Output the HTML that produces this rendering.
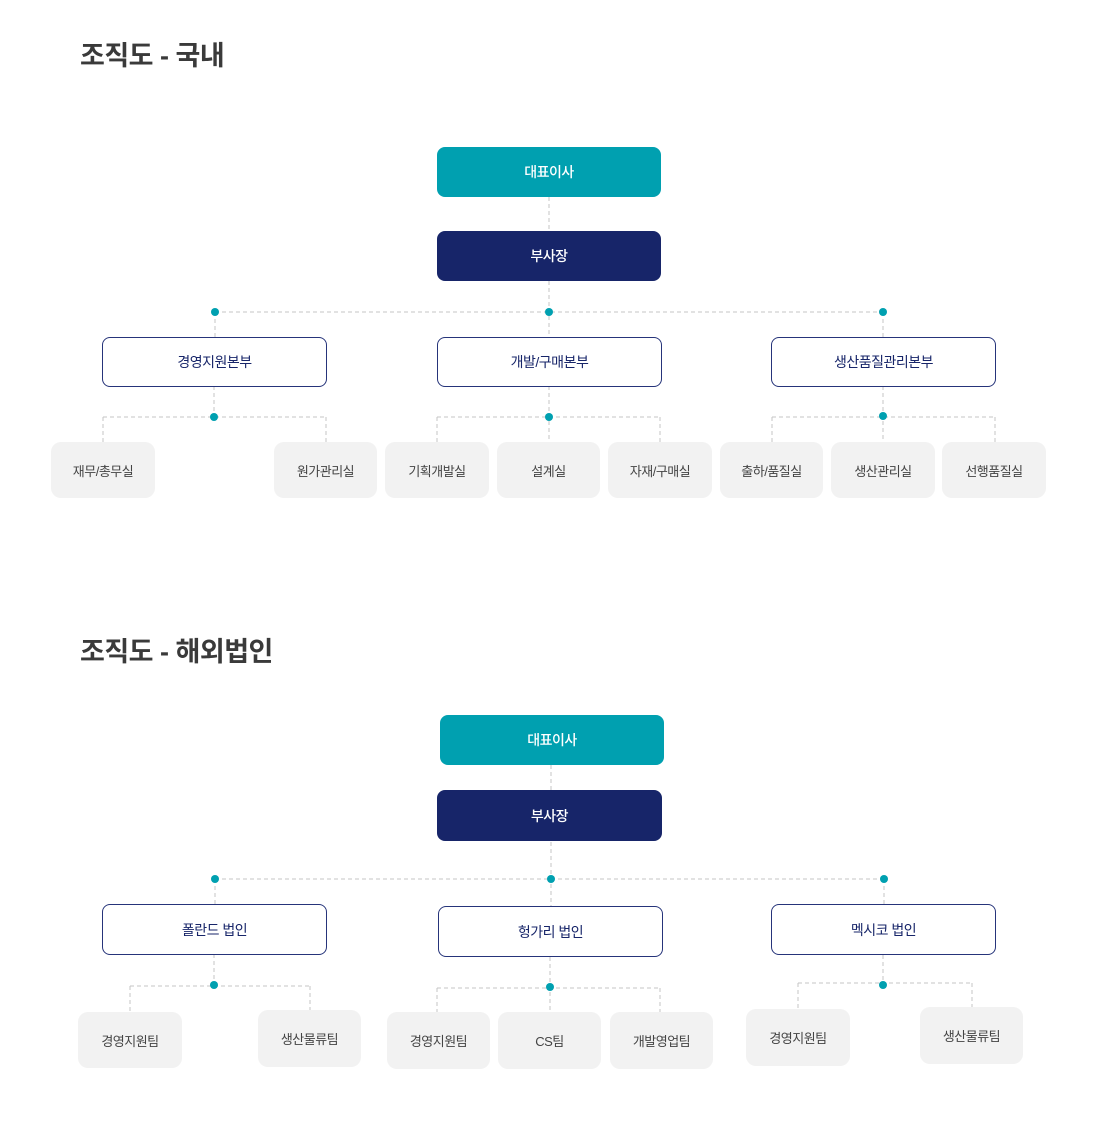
<!DOCTYPE html>
<html><head><meta charset="utf-8"><style>
body{margin:0;width:1096px;height:1134px;background:#fff;position:relative;overflow:hidden;font-family:"Liberation Sans","Noto Sans CJK KR",sans-serif}
.t{position:absolute;left:80px;font-size:27px;font-weight:bold;color:#3a3a3a;letter-spacing:-0.5px;line-height:30px}
.b{position:absolute;display:flex;align-items:center;justify-content:center;box-sizing:border-box;font-size:14px;letter-spacing:-0.5px}
.ceo{background:#00a0b0;color:#fff;border-radius:8px;font-weight:500}
.vp{background:#172569;color:#fff;border-radius:8px;font-weight:500}
.hq{background:#fff;border:1px solid #26347a;color:#172569;border-radius:8px}
.c{background:#f2f2f2;color:#444;border-radius:10px;font-size:13px}
svg{position:absolute;left:0;top:0}
</style></head><body>
<svg width="1096" height="1134">
<g stroke="#c4c4c4" stroke-width="1" stroke-dasharray="4 3" fill="none">
<line x1="549" y1="197" x2="549" y2="337"/>
<line x1="215" y1="312" x2="883" y2="312"/>
<line x1="215" y1="312" x2="215" y2="337"/><line x1="883" y1="312" x2="883" y2="337"/>
<line x1="214" y1="386" x2="214" y2="417"/><line x1="549" y1="386" x2="549" y2="442"/><line x1="883" y1="386" x2="883" y2="442"/>
<line x1="103" y1="417" x2="326" y2="417"/><line x1="103" y1="417" x2="103" y2="442"/><line x1="326" y1="417" x2="326" y2="442"/>
<line x1="437" y1="417" x2="660" y2="417"/><line x1="437" y1="417" x2="437" y2="442"/><line x1="660" y1="417" x2="660" y2="442"/>
<line x1="772" y1="417" x2="995" y2="417"/><line x1="772" y1="417" x2="772" y2="442"/><line x1="995" y1="417" x2="995" y2="442"/>

<line x1="551" y1="765" x2="551" y2="906"/>
<line x1="215" y1="879" x2="884" y2="879"/>
<line x1="215" y1="879" x2="215" y2="904"/><line x1="884" y1="879" x2="884" y2="904"/>
<line x1="214" y1="954" x2="214" y2="986"/><line x1="550" y1="957" x2="550" y2="1012"/><line x1="883" y1="955" x2="883" y2="985"/>
<line x1="130" y1="986" x2="310" y2="986"/><line x1="130" y1="986" x2="130" y2="1012"/><line x1="310" y1="986" x2="310" y2="1010"/>
<line x1="437" y1="988" x2="660" y2="988"/><line x1="437" y1="988" x2="437" y2="1012"/><line x1="660" y1="988" x2="660" y2="1012"/>
<line x1="798" y1="983" x2="972" y2="983"/><line x1="798" y1="983" x2="798" y2="1009"/><line x1="972" y1="983" x2="972" y2="1007"/>
</g>
<g fill="#00a0b0">
<circle cx="215" cy="312" r="4"/><circle cx="549" cy="312" r="4"/><circle cx="883" cy="312" r="4"/>
<circle cx="214" cy="417" r="4"/><circle cx="549" cy="417" r="4"/><circle cx="883" cy="416" r="4"/>
<circle cx="215" cy="879" r="4"/><circle cx="551" cy="879" r="4"/><circle cx="884" cy="879" r="4"/>
<circle cx="214" cy="985" r="4"/><circle cx="550" cy="987" r="4"/><circle cx="883" cy="985" r="4"/>
</g>
</svg>
<div class="t" style="top:41px">조직도 - 국내</div>
<div class="b ceo" style="left:437px;top:147px;width:224px;height:50px">대표이사</div>
<div class="b vp" style="left:437px;top:231px;width:224px;height:50px">부사장</div>
<div class="b hq" style="left:102px;top:337px;width:225px;height:50px">경영지원본부</div>
<div class="b hq" style="left:437px;top:337px;width:225px;height:50px">개발/구매본부</div>
<div class="b hq" style="left:771px;top:337px;width:225px;height:50px">생산품질관리본부</div>
<div class="b c" style="left:51px;top:442px;width:104px;height:56px">재무/총무실</div>
<div class="b c" style="left:274px;top:442px;width:103px;height:56px">원가관리실</div>
<div class="b c" style="left:385px;top:442px;width:104px;height:56px">기획개발실</div>
<div class="b c" style="left:497px;top:442px;width:103px;height:56px">설계실</div>
<div class="b c" style="left:608px;top:442px;width:104px;height:56px">자재/구매실</div>
<div class="b c" style="left:720px;top:442px;width:103px;height:56px">출하/품질실</div>
<div class="b c" style="left:831px;top:442px;width:104px;height:56px">생산관리실</div>
<div class="b c" style="left:942px;top:442px;width:104px;height:56px">선행품질실</div>

<div class="t" style="top:637px">조직도 - 해외법인</div>
<div class="b ceo" style="left:440px;top:715px;width:224px;height:50px">대표이사</div>
<div class="b vp" style="left:437px;top:790px;width:225px;height:51px">부사장</div>
<div class="b hq" style="left:102px;top:904px;width:225px;height:51px">폴란드 법인</div>
<div class="b hq" style="left:438px;top:906px;width:225px;height:51px">헝가리 법인</div>
<div class="b hq" style="left:771px;top:904px;width:225px;height:51px">멕시코 법인</div>
<div class="b c" style="left:78px;top:1012px;width:104px;height:56px">경영지원팀</div>
<div class="b c" style="left:258px;top:1010px;width:103px;height:57px">생산물류팀</div>
<div class="b c" style="left:387px;top:1012px;width:103px;height:57px">경영지원팀</div>
<div class="b c" style="left:498px;top:1012px;width:103px;height:57px">CS팀</div>
<div class="b c" style="left:610px;top:1012px;width:103px;height:57px">개발영업팀</div>
<div class="b c" style="left:746px;top:1009px;width:104px;height:57px">경영지원팀</div>
<div class="b c" style="left:920px;top:1007px;width:103px;height:57px">생산물류팀</div>
</body></html>
